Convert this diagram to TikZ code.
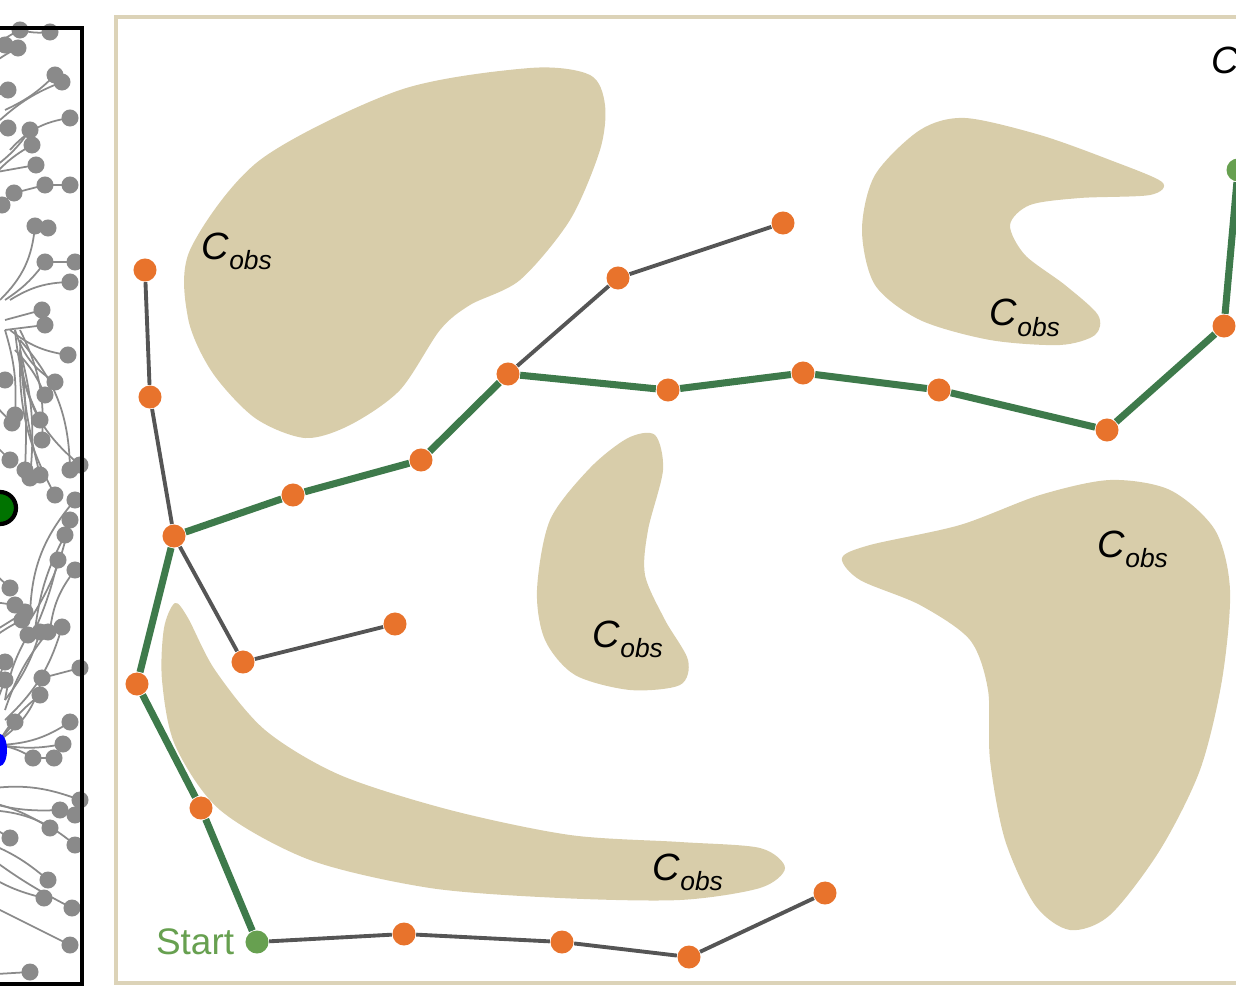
\documentclass[tikz,border=0pt]{standalone}
\usepackage{fontspec}
\setmainfont{Liberation Sans}
\usepackage{tikz}
\usepackage{xcolor}
\usetikzlibrary{positioning}

\definecolor{naranja}{HTML}{E8732C}
\definecolor{verderuta}{HTML}{3E7A4B}
\definecolor{verdepunto}{HTML}{67A050}
\definecolor{grisrama}{HTML}{555555}
\definecolor{grisarbol}{HTML}{8A8A8A}
\definecolor{arena}{HTML}{D8CDAA}
\definecolor{marco}{HTML}{DCD3B8}

\tikzstyle{nodo} = [circle, fill=naranja, minimum size=0.23cm, inner sep=0pt]
\tikzstyle{extremo} = [circle, fill=verdepunto, minimum size=0.23cm, inner sep=0pt]
\tikzstyle{rama} = [line width=1.1pt, draw=grisrama]
\tikzstyle{ruta} = [line width=2pt, draw=verderuta]
\tikzstyle{obst} = [fill=arena, draw=none]
\tikzstyle{etiq} = [font=\fontsize{10.8}{12}\selectfont, inner sep=0pt, anchor=base west]
\tikzstyle{arbol} = [draw=grisarbol, line width=0.5pt]

\newcommand{\Cobs}{\textit{C}\raisebox{-0.1cm}{\fontsize{7.5}{8}\selectfont\textit{obs}}}

\begin{document}
\begin{tikzpicture}[x=0.01cm, y=-0.01cm]
    \useasboundingbox (0,0) rectangle (1236,988);
    \clip (0,0) rectangle (1236,988);

    % Arbol de la izquierda
    \foreach \x/\y/\px/\py/\b in {
        20/30/-20/60/10, 50/32/20/30/-10, 5/45/-20/40/0, 18/48/-30/90/15,
        55/75/5/110/-10, 62/82/0/120/10, 8/90/-30/110/0, 70/118/10/150/20,
        8/128/-30/140/0, 30/130/-10/170/-10, 32/145/-10/180/10, 36/165/-20/175/0,
        14/193/-20/230/10, 45/185/14/193/0, 70/185/45/185/0, 2/205/-20/220/0,
        35/226/0/300/-20, 48/228/35/226/0, 45/262/5/300/-10, 75/262/45/262/0,
        70/282/10/300/15, 42/310/5/320/0, 45/325/5/330/0, 68/355/10/330/-15,
        55/382/15/330/-20, 45/395/15/350/10, 5/380/-20/360/0, 15/415/5/330/10,
        40/420/15/330/-10, 42/440/20/330/15, 12/423/-10/400/0, 10/460/-10/440/0,
        80/465/20/340/-25, 70/470/20/340/20, 25/470/20/350/5, 40/475/20/350/-5,
        30/478/20/350/10, 55/495/20/350/-15, 75/500/30/620/20, 70/520/30/620/-10,
        65/535/35/630/10, 58/560/35/630/-5, 75/570/50/630/15, 10/588/-20/560/0,
        15/605/-20/600/0, 25/612/-20/640/0, 22/620/-10/640/5, 28/635/5/700/10,
        40/632/5/700/-10, 48/632/5/710/10, 62/627/5/720/-15, 5/662/-10/700/0,
        5/680/-10/720/0, 42/678/0/740/-20, 80/668/42/678/0, 40/695/0/740/10,
        15/722/0/740/0, 70/722/0/745/-15, 63/744/0/745/-10, 33/758/0/745/10,
        54/758/33/758/0, 80/800/-20/790/15, 60/810/-20/800/-10, 50/828/-20/800/10,
        75/815/60/810/0, 10/838/-20/820/0, 75/845/-20/810/20, 48/880/-20/840/10,
        44/898/-20/870/-10, 72/908/-20/850/-5, 70/945/-20/900/0, 30/972/-20/975/0}
    {
        \draw[arbol] (\px,\py) to[bend left=\b] (\x,\y);
        \fill[grisarbol] (\x,\y) circle (0.085cm);
    }
    \draw[fill=green!45!black, line width=1.2pt] (0,508) circle (0.16cm);
    \fill[blue] (0,750) ellipse (0.07cm and 0.16cm);
    \draw[line width=1.3pt] (-300,28) rectangle (82,984);

    % Marco del espacio de configuraciones
    \draw[draw=marco, line width=1.4pt] (116,17) rectangle (1300,983);

    % Obstaculos
    \fill[obst] plot[smooth cycle] coordinates {(190,250) (260,160) (400,90) (530,68) (590,75) (605,105)
        (600,150) (570,220) (520,280) (470,305) (440,330) (400,390) (350,425) (305,438)
        (255,418) (212,372) (188,318)};
    \fill[obst] plot[smooth cycle] coordinates {(862,230) (875,175) (920,130) (965,118) (1040,135)
        (1110,160) (1162,182) (1150,195) (1080,198) (1030,205) (1010,225) (1025,255)
        (1065,285) (1098,315) (1095,335) (1060,345) (990,340) (920,320) (875,285)};
    \fill[obst] plot[smooth cycle] coordinates {(537,590) (550,520) (590,468) (628,438) (655,435)
        (663,470) (648,530) (645,575) (665,620) (688,660) (680,685) (630,690) (575,675) (545,640)};
    \fill[obst] plot[smooth cycle] coordinates {(175,603) (188,618) (215,670) (265,730) (340,775)
        (450,810) (570,835) (680,842) (760,848) (785,868) (760,888) (680,900) (560,898)
        (430,888) (310,860) (220,810) (175,745) (162,680) (164,628)};
    \fill[obst] plot[smooth cycle] coordinates {(842,558) (870,545) (960,525) (1040,495) (1110,480)
        (1170,490) (1215,530) (1230,590) (1222,680) (1200,770) (1160,850) (1110,915)
        (1070,930) (1035,905) (1005,840) (990,760) (988,690) (970,640) (920,605) (860,580)};

    % Etiquetas de obstaculos
    \node[etiq] (c1) at (201,259) {\Cobs};
    \node[etiq] (c2) at (989,326) {\Cobs};
    \node[etiq] (c3) at (1097,557) {\Cobs};
    \node[etiq] (c4) at (592,647) {\Cobs};
    \node[etiq] (c5) at (652,880) {\Cobs};
    \node[etiq] (c6) at (1211,74) {\Cobs};

    % Nodos del arbol
    \node[nodo] (n1) at (145,270) {};
    \node[nodo] (n2) at (150,397) {};
    \node[nodo] (n3) at (174,536) {};
    \node[nodo] (n4) at (243,662) {};
    \node[nodo] (n5) at (395,624) {};
    \node[nodo] (n6) at (137,684) {};
    \node[nodo] (n7) at (201,808) {};
    \node[extremo] (start) at (257,942) {};
    \node[nodo] (n8) at (404,934) {};
    \node[nodo] (n9) at (562,942) {};
    \node[nodo] (n10) at (689,957) {};
    \node[nodo] (n11) at (825,893) {};
    \node[nodo] (n12) at (293,495) {};
    \node[nodo] (n13) at (421,460) {};
    \node[nodo] (n14) at (508,374) {};
    \node[nodo] (n15) at (618,278) {};
    \node[nodo] (n16) at (783,223) {};
    \node[nodo] (n17) at (668,390) {};
    \node[nodo] (n18) at (803,373) {};
    \node[nodo] (n19) at (939,390) {};
    \node[nodo] (n20) at (1107,430) {};
    \node[nodo] (n21) at (1224,326) {};
    \node[extremo] (goal) at (1238,170) {};
    \node[text=verdepunto, font=\fontsize{10.5}{12}\selectfont, inner sep=0pt, left=0.1cm of start] (txtstart) {Start};

    % Ramas
    \foreach \a/\b in {n1/n2, n2/n3, n3/n4, n4/n5, start/n8, n8/n9, n9/n10, n10/n11, n14/n15, n15/n16}
        \draw[rama] (\a) -- (\b);

    % Camino encontrado
    \foreach \a/\b in {start/n7, n7/n6, n6/n3, n3/n12, n12/n13, n13/n14, n14/n17, n17/n18,
        n18/n19, n19/n20, n20/n21, n21/goal}
        \draw[ruta] (\a) -- (\b);

\end{tikzpicture}
\end{document}
